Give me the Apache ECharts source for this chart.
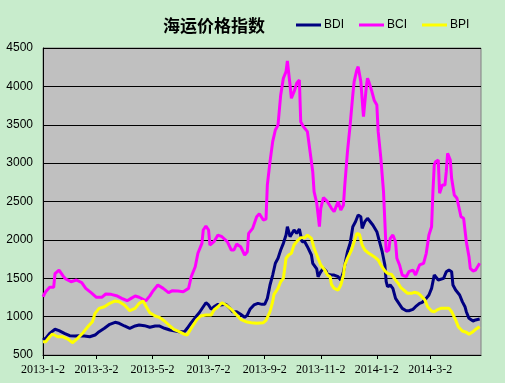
<!DOCTYPE html>
<html>
<head>
<meta charset="utf-8">
<script src="https://cdn.jsdelivr.net/npm/echarts@6/dist/echarts.min.js"></script>
<style>
html,body{margin:0;padding:0;background:#C8ECCC;}
#c{width:505px;height:383px;}
</style>
</head>
<body>
<div id="c"></div>
<script>
// x = trading-day index since 2013-1-2
const tickDays = [0, 40, 82, 124, 166, 208, 250, 290];
const tickLabels = ['2013-1-2','2013-3-2','2013-5-2','2013-7-2','2013-9-2','2013-11-2','2014-1-2','2014-3-2'];
const lastDay = 328;

const bdi = [[0,695],[2,717],[5,782],[9,835],[12,817],[16,782],[20,752],[24,748],[27,752],[31,748],[35,738],[39,760],[42,804],[46,848],[50,900],[54,926],[57,913],[61,878],[65,848],[69,878],[72,891],[76,882],[80,861],[84,878],[87,878],[91,848],[95,826],[98,817],[102,804],[106,804],[108,848],[111,921],[115,1008],[117,1051],[120,1129],[122,1181],[124,1152],[126,1095],[128,1129],[131,1160],[133,1152],[137,1160],[140,1108],[142,1064],[145,1064],[148,1030],[151,991],[153,1021],[155,1095],[158,1152],[161,1173],[164,1160],[166,1160],[168,1238],[170,1412],[172,1542],[174,1695],[176,1760],[178,1868],[180,1955],[182,2063],[183,2172],[185,2041],[186,2050],[188,2128],[190,2085],[192,2141],[194,1976],[196,1976],[198,1911],[201,1803],[202,1695],[205,1621],[206,1520],[208,1585],[210,1629],[212,1595],[213,1551],[216,1542],[218,1542],[221,1520],[223,1477],[225,1585],[227,1760],[228,1846],[230,1955],[232,2172],[234,2237],[236,2324],[238,2302],[239,2150],[241,2237],[243,2281],[244,2259],[247,2194],[250,2107],[252,1976],[254,1846],[256,1673],[257,1455],[258,1390],[260,1412],[262,1368],[264,1238],[266,1186],[269,1108],[272,1077],[274,1077],[277,1095],[279,1129],[282,1173],[284,1186],[287,1238],[289,1282],[291,1368],[293,1542],[294,1564],[296,1477],[297,1477],[300,1499],[302,1585],[304,1607],[306,1585],[307,1412],[309,1347],[312,1282],[314,1195],[316,1129],[317,1064],[319,978],[322,943],[324,957],[327,969]];

const bci = [[0,1260],[2,1325],[5,1382],[8,1382],[9,1560],[12,1607],[15,1530],[17,1490],[21,1455],[25,1477],[29,1442],[32,1368],[36,1312],[40,1252],[44,1252],[47,1295],[51,1290],[55,1273],[59,1238],[63,1207],[66,1238],[69,1269],[72,1252],[77,1207],[80,1270],[82,1325],[86,1412],[90,1368],[94,1312],[97,1338],[101,1333],[105,1325],[109,1368],[111,1520],[114,1650],[116,1825],[119,1955],[120,2128],[122,2181],[124,2128],[125,1933],[128,1976],[131,2063],[134,2041],[138,1976],[141,1868],[143,1868],[145,1946],[148,1911],[151,1803],[153,1846],[154,2085],[157,2150],[160,2302],[162,2340],[165,2259],[167,2270],[168,2715],[170,3019],[172,3280],[174,3432],[176,3497],[178,3888],[180,4105],[182,4192],[183,4331],[185,4018],[186,3845],[188,3931],[190,4040],[192,4083],[193,3540],[195,3475],[198,3410],[200,3149],[202,2888],[203,2628],[205,2477],[207,2172],[208,2411],[210,2550],[213,2498],[216,2411],[218,2368],[221,2498],[223,2389],[225,2455],[226,2715],[228,3149],[230,3497],[232,3888],[233,4062],[235,4214],[236,4257],[238,4062],[240,3606],[242,3975],[243,4105],[244,4062],[246,3950],[248,3820],[250,3757],[251,3410],[253,3063],[255,2628],[256,2237],[257,1846],[259,1868],[260,2020],[262,2063],[264,1976],[265,1760],[267,1673],[269,1542],[272,1520],[274,1585],[277,1607],[279,1542],[282,1673],[285,1695],[287,1825],[289,2063],[291,2172],[292,2628],[293,2976],[294,3019],[296,3041],[297,2607],[299,2715],[301,2715],[302,2888],[303,3127],[305,3041],[306,2802],[308,2585],[310,2542],[313,2302],[315,2281],[317,1976],[319,1781],[320,1629],[322,1595],[324,1607],[327,1695]];

const bpi = [[0,673],[2,673],[5,738],[7,774],[11,738],[15,737],[19,704],[22,660],[26,717],[30,791],[34,878],[37,934],[39,1043],[42,1108],[46,1129],[50,1173],[54,1204],[57,1195],[61,1152],[65,1077],[69,1108],[72,1173],[75,1204],[77,1138],[80,1051],[84,1008],[87,991],[91,943],[95,878],[98,835],[102,804],[106,770],[108,760],[111,848],[115,956],[118,1008],[122,1021],[126,1021],[128,1086],[131,1129],[134,1181],[137,1152],[141,1095],[145,1021],[148,965],[152,934],[156,921],[160,913],[165,921],[167,950],[170,1064],[172,1195],[173,1291],[176,1368],[178,1455],[180,1499],[182,1760],[184,1803],[186,1825],[188,1933],[191,1998],[193,2028],[196,2028],[198,2063],[201,2020],[203,1890],[206,1760],[208,1673],[211,1607],[213,1542],[215,1520],[216,1421],[218,1368],[221,1347],[223,1412],[225,1542],[226,1673],[228,1760],[231,1868],[233,1976],[235,2085],[237,2072],[239,1933],[241,1868],[244,1825],[248,1781],[251,1738],[253,1673],[256,1595],[258,1564],[261,1551],[263,1499],[266,1434],[268,1377],[271,1334],[273,1304],[276,1304],[278,1317],[281,1304],[283,1273],[286,1217],[288,1129],[291,1073],[293,1064],[296,1095],[298,1108],[301,1108],[304,1108],[306,1064],[309,956],[311,869],[314,813],[317,796],[319,770],[322,804],[324,835],[327,869]];

const seriesNames = ['BDI','BCI','BPI'];
const seriesColors = ['#000080','#FF00FF','#FFFF00'];
const seriesData = [bdi, bci, bpi];

const chart = echarts.init(document.getElementById('c'), null, {renderer:'canvas'});
chart.setOption({
  animation: false,
  backgroundColor: '#C8ECCC',
  title: {
    text: '海运价格指数',
    left: 158, top: 12,
    textStyle: {fontFamily: 'Noto Sans CJK SC', fontSize: 17, fontWeight: 'bold', color: '#000'}
  },
  legend: {
    left: 291, top: 14,
    itemWidth: 25, itemHeight: 3, itemGap: 15,
    icon: 'rect',
    textStyle: {fontFamily: 'Liberation Sans', fontSize: 12, color: '#000', padding: [0,0,0,-2]},
    data: seriesNames
  },
  grid: {
    left: 43, right: 24, top: 48, bottom: 28,
    show: true, backgroundColor: '#C0C0C0', borderColor: '#808080', borderWidth: 1
  },
  xAxis: {
    type: 'value', min: 0, max: lastDay,
    axisLine: {onZero: false, lineStyle: {color: '#000', width: 1}},
    axisTick: {show: true, length: 4, customValues: tickDays, lineStyle: {color: '#000'}},
    splitLine: {show: false},
    axisLabel: {
      customValues: tickDays,
      margin: 9,
      fontFamily: 'Liberation Serif', fontSize: 12, color: '#000',
      formatter: function (v) { const i = tickDays.indexOf(v); return i >= 0 ? tickLabels[i] : ''; }
    }
  },
  yAxis: {
    type: 'value', min: 500, max: 4500, interval: 500,
    axisLine: {show: true, lineStyle: {color: '#000', width: 1}},
    axisTick: {show: false},
    splitLine: {show: true, lineStyle: {color: '#000', width: 1}},
    axisLabel: {margin: 10, fontFamily: 'Liberation Sans', fontSize: 12, color: '#000',
      formatter: function (v) { return String(v); }}
  },
  series: seriesNames.map((n, i) => ({
    name: n, type: 'line', data: seriesData[i],
    showSymbol: false, symbol: 'none',
    itemStyle: {color: seriesColors[i]},
    lineStyle: {color: seriesColors[i], width: 3}
  }))
});
</script>
</body>
</html>
